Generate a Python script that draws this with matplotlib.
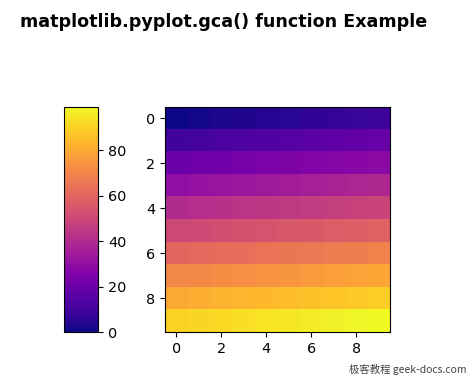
import numpy as np
import matplotlib.pyplot as plt

# cell values of the 10x10 image, row by row
grid = [
    [0, 1, 2, 3, 4, 5, 6, 7, 8, 9],
    [10, 11, 12, 13, 14, 15, 16, 17, 18, 19],
    [20, 21, 22, 23, 24, 25, 26, 27, 28, 29],
    [30, 31, 32, 33, 34, 35, 36, 37, 38, 39],
    [40, 41, 42, 43, 44, 45, 46, 47, 48, 49],
    [50, 51, 52, 53, 54, 55, 56, 57, 58, 59],
    [60, 61, 62, 63, 64, 65, 66, 67, 68, 69],
    [70, 71, 72, 73, 74, 75, 76, 77, 78, 79],
    [80, 81, 82, 83, 84, 85, 86, 87, 88, 89],
    [90, 91, 92, 93, 94, 95, 96, 97, 98, 99],
]
axis_ticks = [0, 2, 4, 6, 8]
cbar_ticks = [0, 20, 40, 60, 80]

plt.rcParams['xtick.labelsize'] = 10.4
plt.rcParams['ytick.labelsize'] = 10.4

fig = plt.figure(figsize=(4.74, 3.83), dpi=100)
ax = fig.add_axes([0.348, 0.133, 0.475, 0.588])
cax = fig.add_axes([0.135, 0.133, 0.072, 0.588])

im = ax.imshow(np.array(grid), cmap='plasma')
ax.set_xticks(axis_ticks)
ax.set_yticks(axis_ticks)

cb = fig.colorbar(im, cax=cax)
cb.set_ticks(cbar_ticks)

fig.text(0.042, 0.942, 'matplotlib.pyplot.gca() function Example',
         fontsize=12.6, fontweight='bold', va='center')
fig.text(0.985, 0.02, '极客教程 geek-docs.com', fontsize=7.5, color='#444444',
         ha='right', va='bottom', family=['Noto Sans CJK SC', 'DejaVu Sans'])

fig.savefig('out.png', dpi=100)
